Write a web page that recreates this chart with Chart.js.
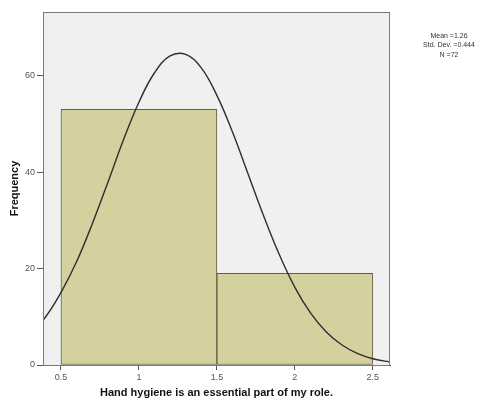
<!DOCTYPE html>
<html>
<head>
<meta charset="utf-8">
<script src="https://cdn.jsdelivr.net/npm/chart.js@4/dist/chart.umd.min.js"></script>
<style>
  html, body { margin: 0; padding: 0; background: #ffffff; }
  #wrap { width: 484px; height: 414px; position: relative; }
</style>
</head>
<body>
<div id="wrap"><canvas id="c" width="484" height="414"></canvas></div>
<script>
// Histogram bins (bin centres) and frequencies
const binCenters = [1, 2];
const frequencies = [53, 19];

// Fitted normal curve as drawn (x positions and frequency heights)
const curveX = [0.3, 0.4, 0.5, 0.6, 0.7, 0.8, 0.9, 1.0, 1.1, 1.2, 1.3, 1.4, 1.5, 1.6, 1.7, 1.8, 1.9, 2.0, 2.1, 2.2, 2.3, 2.4, 2.5, 2.6, 2.7];
const curveY = [6.3, 9.9, 15.0, 21.4, 29.2, 37.8, 46.6, 54.5, 60.6, 64.1, 64.4, 61.6, 55.9, 48.3, 39.6, 30.9, 22.9, 16.1, 10.8, 6.9, 4.2, 2.4, 1.3, 0.7, 0.3];

// Tick labels
const xTicks = [0.5, 1, 1.5, 2, 2.5];
const xTickLabels = ['0.5', '1', '1.5', '2', '2.5'];
const yTicks = [0, 20, 40, 60];

// Summary statistics text
const statsLines = ['Mean =1.26', 'Std. Dev. =0.444', 'N =72'];

const xTitle = 'Hand hygiene is an essential part of my role.';
const yTitle = 'Frequency';

const X_MIN = 0.385, X_MAX = 2.61, Y_MAX = 73.2;

const frame = {
  id: 'frame',
  beforeDraw(chart) {
    const a = chart.chartArea, ctx = chart.ctx;
    ctx.save();
    ctx.fillStyle = '#f0f0f0';
    ctx.fillRect(a.left, a.top, a.right - a.left, a.bottom - a.top);
    ctx.restore();
  },
  afterDraw(chart) {
    const a = chart.chartArea, ctx = chart.ctx;
    ctx.save();
    ctx.strokeStyle = '#7a7a7a';
    ctx.lineWidth = 1;
    ctx.strokeRect(a.left + 0.5, a.top + 0.5, a.right - a.left - 1, a.bottom - a.top);
    ctx.fillStyle = '#333333';
    ctx.font = '7px "Liberation Sans", Arial, sans-serif';
    ctx.textAlign = 'center';
    ctx.textBaseline = 'middle';
    statsLines.forEach((t, i) => ctx.fillText(t, 449, 36 + i * 9.5));
    ctx.restore();
  }
};

new Chart(document.getElementById('c'), {
  type: 'bar',
  data: {
    datasets: [
      {
        type: 'line',
        data: curveX.map((x, i) => ({ x: x, y: curveY[i] })),
        xAxisID: 'x',
        yAxisID: 'y',
        borderColor: '#2e2e2e',
        borderWidth: 1.4,
        pointRadius: 0,
        tension: 0.4,
        fill: false,
        order: 0
      },
      {
        type: 'bar',
        data: binCenters.map((x, i) => ({ x: x, y: frequencies[i] })),
        xAxisID: 'xb',
        yAxisID: 'y',
        backgroundColor: '#d5d19f',
        borderColor: '#5e5e46',
        borderWidth: 1,
        borderSkipped: false,
        grouped: false,
        barPercentage: 1,
        categoryPercentage: 1,
        order: 1
      }
    ]
  },
  options: {
    responsive: false,
    animation: false,
    devicePixelRatio: 1,
    layout: { padding: { left: 0, top: 12, right: 94, bottom: 0 } },
    plugins: { legend: { display: false }, tooltip: { enabled: false } },
    scales: {
      x: {
        type: 'linear',
        position: 'bottom',
        min: X_MIN, max: X_MAX,
        offset: false,
        afterBuildTicks: s => { s.ticks = xTicks.map(v => ({ value: v })); },
        afterFit: s => { s.height = 49; },
        ticks: {
          callback: (v) => { const i = xTicks.indexOf(v); return i >= 0 ? xTickLabels[i] : ''; },
          color: '#555555',
          font: { family: '"Liberation Sans", Arial, sans-serif', size: 9 },
          padding: 2,
          maxRotation: 0,
          autoSkip: false
        },
        grid: { offset: false, drawOnChartArea: false, drawTicks: true, tickLength: 5, color: '#555555' },
        border: { display: true, color: '#555555' },
        title: {
          display: true,
          text: xTitle,
          color: '#111111',
          font: { family: '"Liberation Sans", Arial, sans-serif', size: 11, weight: 'bold' },
          padding: { top: 0, bottom: 14 }
        }
      },
      xb: {
        type: 'linear',
        position: 'bottom',
        display: false,
        min: X_MIN, max: X_MAX,
        offset: false,
        grid: { offset: false },
        afterBuildTicks: s => { s.ticks = []; }
      },
      y: {
        type: 'linear',
        position: 'left',
        min: 0, max: Y_MAX,
        afterBuildTicks: s => { s.ticks = yTicks.map(v => ({ value: v })); },
        afterFit: s => { s.width = 43; },
        ticks: {
          color: '#555555',
          font: { family: '"Liberation Sans", Arial, sans-serif', size: 9 },
          padding: 2
        },
        grid: { offset: false, drawOnChartArea: false, drawTicks: true, tickLength: 6, color: '#555555' },
        border: { display: true, color: '#555555' },
        title: {
          display: true,
          text: yTitle,
          color: '#111111',
          font: { family: '"Liberation Sans", Arial, sans-serif', size: 11, weight: 'bold' },
          padding: { top: 8, bottom: 0 }
        }
      }
    }
  },
  plugins: [frame]
});
</script>
</body>
</html>
